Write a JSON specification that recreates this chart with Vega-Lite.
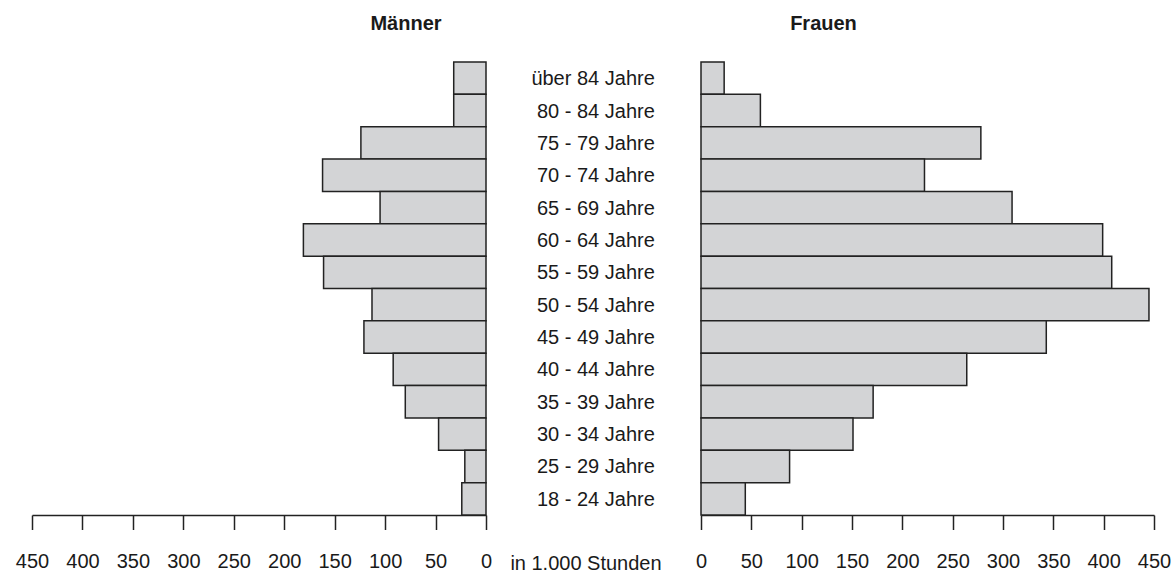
{
  "$schema": "https://vega.github.io/schema/vega-lite/v6.json",
  "background": "white",
  "padding": {"left": 15, "top": 14, "right": 2, "bottom": 2},
  "bounds": "flush",
  "spacing": 215,
  "config": {
    "view": {"stroke": null},
    "font": "Liberation Sans",
    "axis": {
      "domainColor": "#222222",
      "domainWidth": 1.5,
      "tickColor": "#222222",
      "tickWidth": 1.5,
      "labelColor": "#1a1a1a",
      "labelFontSize": 20,
      "labelFont": "Liberation Sans",
      "grid": false,
      "labelFlush": false,
      "labelOverlap": false,
      "labelBound": false
    },
    "title": {"fontSize": 20, "fontWeight": "bold", "color": "#1a1a1a", "font": "Liberation Sans", "offset": 27}
  },
  "data": {
    "values": [
      {"age": "über 84 Jahre", "sex": "M", "value": 32},
      {"age": "80 - 84 Jahre", "sex": "M", "value": 32},
      {"age": "75 - 79 Jahre", "sex": "M", "value": 124},
      {"age": "70 - 74 Jahre", "sex": "M", "value": 162},
      {"age": "65 - 69 Jahre", "sex": "M", "value": 105},
      {"age": "60 - 64 Jahre", "sex": "M", "value": 181},
      {"age": "55 - 59 Jahre", "sex": "M", "value": 161},
      {"age": "50 - 54 Jahre", "sex": "M", "value": 113},
      {"age": "45 - 49 Jahre", "sex": "M", "value": 121},
      {"age": "40 - 44 Jahre", "sex": "M", "value": 92},
      {"age": "35 - 39 Jahre", "sex": "M", "value": 80},
      {"age": "30 - 34 Jahre", "sex": "M", "value": 47},
      {"age": "25 - 29 Jahre", "sex": "M", "value": 21},
      {"age": "18 - 24 Jahre", "sex": "M", "value": 24},
      {"age": "über 84 Jahre", "sex": "F", "value": 23},
      {"age": "80 - 84 Jahre", "sex": "F", "value": 59},
      {"age": "75 - 79 Jahre", "sex": "F", "value": 278},
      {"age": "70 - 74 Jahre", "sex": "F", "value": 222},
      {"age": "65 - 69 Jahre", "sex": "F", "value": 309},
      {"age": "60 - 64 Jahre", "sex": "F", "value": 399},
      {"age": "55 - 59 Jahre", "sex": "F", "value": 408},
      {"age": "50 - 54 Jahre", "sex": "F", "value": 445},
      {"age": "45 - 49 Jahre", "sex": "F", "value": 343},
      {"age": "40 - 44 Jahre", "sex": "F", "value": 264},
      {"age": "35 - 39 Jahre", "sex": "F", "value": 171},
      {"age": "30 - 34 Jahre", "sex": "F", "value": 151},
      {"age": "25 - 29 Jahre", "sex": "F", "value": 88},
      {"age": "18 - 24 Jahre", "sex": "F", "value": 44}
    ]
  },
  "hconcat": [
    {
      "width": 454,
      "height": 453,
      "title": {"text": "Männer", "anchor": "middle", "dx": 147},
      "transform": [{"filter": "datum.sex === 'M'"}],
      "mark": {"type": "bar", "fill": "#d3d4d6", "stroke": "#222222", "strokeWidth": 1.5},
      "encoding": {
        "y": {
          "field": "age", "type": "nominal",
          "sort": ["über 84 Jahre", "80 - 84 Jahre", "75 - 79 Jahre", "70 - 74 Jahre", "65 - 69 Jahre", "60 - 64 Jahre", "55 - 59 Jahre", "50 - 54 Jahre", "45 - 49 Jahre", "40 - 44 Jahre", "35 - 39 Jahre", "30 - 34 Jahre", "25 - 29 Jahre", "18 - 24 Jahre"],
          "scale": {"paddingInner": 0, "paddingOuter": 0},
          "axis": null
        },
        "x": {
          "field": "value", "type": "quantitative",
          "scale": {"domain": [0, 450], "reverse": true, "nice": false, "zero": true},
          "axis": {
            "values": [0, 50, 100, 150, 200, 250, 300, 350, 400, 450],
            "tickSize": 14.5,
            "labelPadding": 22,
            "title": "in 1.000 Stunden",
            "titleFontSize": 20,
            "titleFontWeight": "normal",
            "titleColor": "#1a1a1a",
            "titleFont": "Liberation Sans",
            "titleX": 553.5,
            "titleY": 54,
            "titleAlign": "center",
            "titleBaseline": "alphabetic",
            "titleAnchor": null
          }
        }
      }
    },
    {
      "width": 453,
      "height": 453,
      "title": {"text": "Frauen", "anchor": "middle", "dx": -104},
      "transform": [{"filter": "datum.sex === 'F'"}],
      "mark": {"type": "bar", "fill": "#d3d4d6", "stroke": "#222222", "strokeWidth": 1.5},
      "encoding": {
        "y": {
          "field": "age", "type": "nominal",
          "sort": ["über 84 Jahre", "80 - 84 Jahre", "75 - 79 Jahre", "70 - 74 Jahre", "65 - 69 Jahre", "60 - 64 Jahre", "55 - 59 Jahre", "50 - 54 Jahre", "45 - 49 Jahre", "40 - 44 Jahre", "35 - 39 Jahre", "30 - 34 Jahre", "25 - 29 Jahre", "18 - 24 Jahre"],
          "scale": {"paddingInner": 0, "paddingOuter": 0},
          "axis": {
            "title": null,
            "domain": false,
            "ticks": false,
            "tickSize": 0,
            "labelPadding": 46.7,
            "labelAlign": "right",
            "labelOffset": 1,
            "labelFontSize": 20
          }
        },
        "x": {
          "field": "value", "type": "quantitative",
          "scale": {"domain": [0, 450], "nice": false, "zero": true},
          "axis": {
            "values": [0, 50, 100, 150, 200, 250, 300, 350, 400, 450],
            "tickSize": 14.5,
            "labelPadding": 22,
            "title": null
          }
        }
      }
    }
  ]
}
